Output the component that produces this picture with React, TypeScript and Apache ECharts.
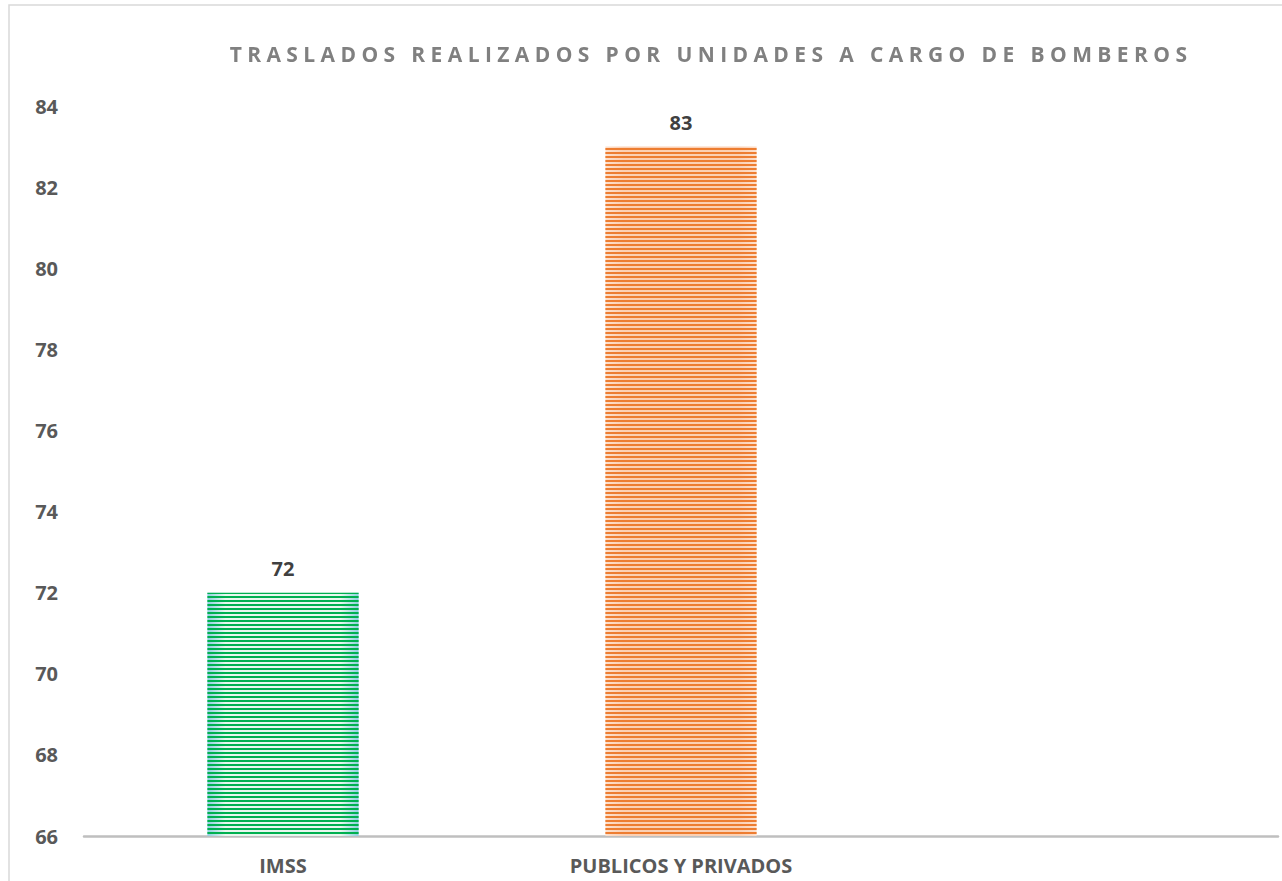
import React, { useEffect, useRef } from "react";
import * as echarts from "echarts";

const titleText = "TRASLADOS REALIZADOS POR UNIDADES A CARGO DE BOMBEROS";
const categories = ["IMSS", "PUBLICOS Y PRIVADOS", ""];
const values: (number | null)[] = [72, 83, null];
const yMin = 66;
const yMax = 84;
const yStep = 2;

const stripeColors = ["#00b050", "#ed7d31", "#888888"];
const baseColors = [
  ["#8fcfe0", "#e8f7ee"],
  ["#fde0cc", "#fbd0b4"],
  ["#ffffff", "#ffffff"],
];

const FONT = "'Open Sans'";

export default function App() {
  const ref = useRef<HTMLDivElement>(null);
  useEffect(() => {
    if (!ref.current) return;
    const chart = echarts.init(ref.current, null, { renderer: "svg" });
    const data = values.map((v, i) => ({
      value: v,
      itemStyle: {
        color: {
          type: "linear",
          x: 0,
          y: 0,
          x2: 1,
          y2: 0,
          colorStops: [
            { offset: 0, color: baseColors[i][0] },
            { offset: 0.12, color: baseColors[i][1] },
            { offset: 0.88, color: baseColors[i][1] },
            { offset: 1, color: baseColors[i][0] },
          ],
        },
        decal: {
          symbol: "rect",
          symbolSize: 1,
          color: stripeColors[i],
          dashArrayX: [1, 0],
          dashArrayY: [2, 2],
          rotation: 0,
        },
      },
    }));
    chart.setOption({
      animation: false,
      grid: { left: 84, right: 4, top: 106, bottom: 45, containLabel: false },
      graphic: [
        {
          type: "rect",
          shape: { x: 9, y: 5, width: 1500, height: 1200 },
          style: { fill: "none", stroke: "#d9d9d9", lineWidth: 1.5 },
          silent: true,
          z: -10,
        },
      ],
      xAxis: {
        type: "category",
        data: categories,
        axisLine: { show: true, lineStyle: { color: "#bfbfbf", width: 2.5 } },
        axisTick: { show: false },
        axisLabel: {
          color: "#595959",
          fontFamily: FONT,
          fontWeight: "bold",
          fontSize: 20,
          margin: 19,
        },
      },
      yAxis: {
        type: "value",
        min: yMin,
        max: yMax,
        interval: yStep,
        axisLine: { show: false },
        axisTick: { show: false },
        splitLine: { show: false },
        axisLabel: {
          color: "#595959",
          fontFamily: FONT,
          fontWeight: "bold",
          fontSize: 20,
          margin: 26,
        },
      },
      series: [
        {
          type: "bar",
          data,
          barWidth: "38%",
          label: {
            show: true,
            position: "top",
            distance: 14,
            color: "#404040",
            fontFamily: FONT,
            fontWeight: "bold",
            fontSize: 20,
          },
        },
      ],
    });
    return () => chart.dispose();
  }, []);
  return (
    <div style={{ position: "fixed", left: 0, top: 0, width: 1282, height: 881, background: "#fff" }}>
      <div ref={ref} style={{ position: "absolute", left: 0, top: 0, width: 1282, height: 881 }} />
      <div
        style={{
          position: "absolute",
          left: 0,
          top: 39,
          width: 1422,
          textAlign: "center",
          fontFamily: FONT,
          fontWeight: "bold",
          fontSize: 21,
          letterSpacing: "5.4px",
          color: "#808080",
          lineHeight: "30px",
          whiteSpace: "nowrap",
          pointerEvents: "none",
        }}
      >
        {titleText}
      </div>
    </div>
  );
}
